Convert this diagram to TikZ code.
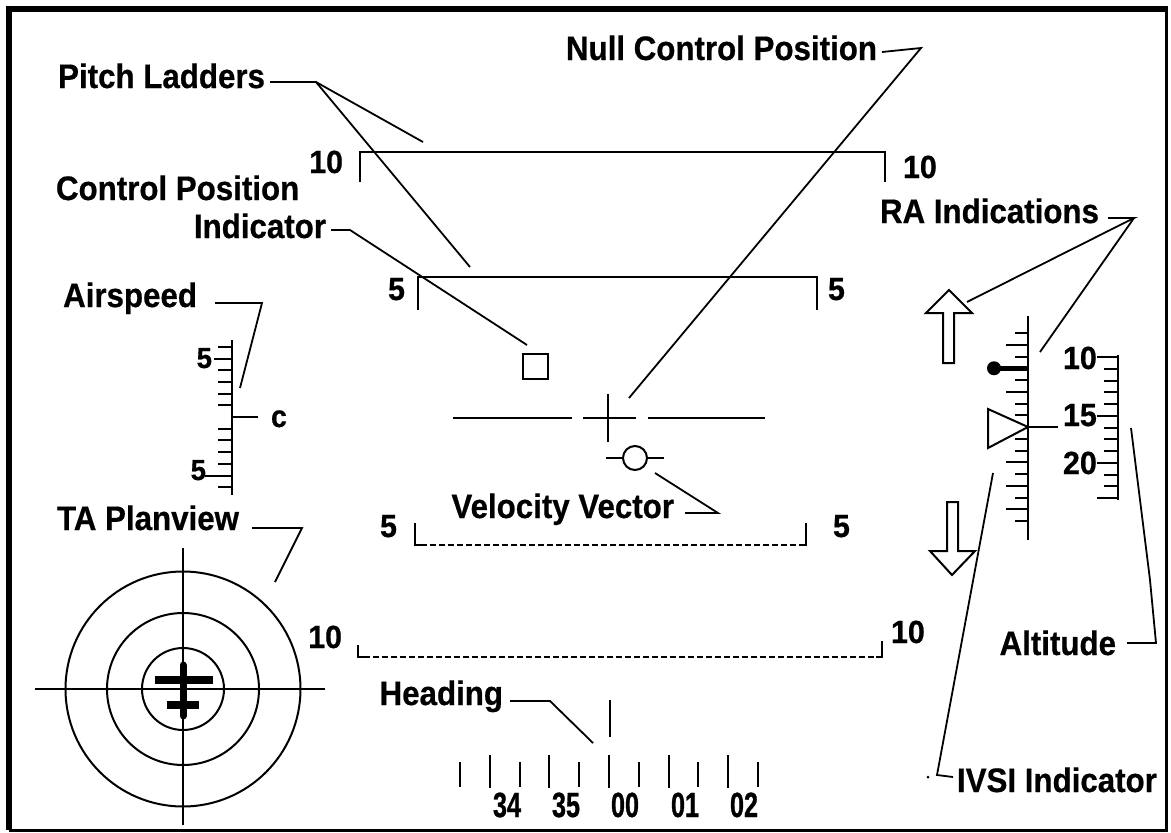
\documentclass[tikz,border=0pt]{standalone}
\usepackage{fontspec}
\setmainfont{Liberation Sans}
\newfontfamily\lblfont[FakeStretch=0.92,FakeBold=0.6]{Liberation Sans}
\newfontfamily\numfont[FakeStretch=0.95,FakeBold=0.6]{Liberation Sans}
\newfontfamily\condfont[FakeStretch=0.72,FakeBold=0.8]{Liberation Sans}
\usetikzlibrary{calc}
\begin{document}
\begin{tikzpicture}[x=1pt,y=-1pt,line width=2pt,
  lbl/.style={font=\fontsize{34}{34}\selectfont\lblfont\bfseries,inner sep=0pt},
  num/.style={font=\fontsize{32}{32}\selectfont\numfont\bfseries,inner sep=0pt},
  hdg/.style={font=\fontsize{35}{35}\selectfont\condfont\bfseries,inner sep=0pt,anchor=base west},
  dashline/.style={dash pattern=on 6pt off 3pt,line width=2.6pt},
  leader/.style={line width=1.8pt},
  frameline/.style={line width=6pt}]
\useasboundingbox (0,0) rectangle (1171,833);
% frame
\draw[frameline] (9,6) -- (9,830);
\draw[frameline] (6,9) -- (1168,9);
\draw[line width=3pt] (1166,9) -- (1166,830) -- (9,830);

% ---------- labels ----------
\node[lbl,anchor=base east] (pl) at (266,88) {Pitch Ladders};
\node[lbl,anchor=base east] (ncp) at (878,60) {Null Control Position};
\node[lbl,anchor=base west] (cp1) at (55,200) {Control Position};
\node[lbl,anchor=base east] (cp2) at (327,238) {Indicator};
\node[lbl,anchor=base east] (as) at (198,307) {Airspeed};
\node[lbl,anchor=base east] (ra) at (1100,223) {RA Indications};
\node[lbl,anchor=base east] (ta) at (240,530) {TA Planview};
\node[lbl,anchor=base east] (vvl) at (675,518) {Velocity Vector};
\node[lbl,anchor=base east] (hd) at (504,705) {Heading};
\node[lbl,anchor=base east] (alt) at (1117,655) {Altitude};
\node[lbl,anchor=base west] (ivsi) at (956,792) {IVSI Indicator};

% ---------- pitch ladders ----------
\draw (360,182) -- (360,152) -- (885,152) -- (885,182);
\node[num,anchor=base east] (p10l) at (344,173) {10};
\node[num,anchor=base west] (p10r) at (902,178) {10};
\draw (418,310) -- (418,277) -- (817,277) -- (817,310);
\node[num,anchor=base east] (p5l) at (406,300) {5};
\node[num,anchor=base west] (p5r) at (827,300) {5};
\draw (415,523) -- (415,545) -- (421,545);
\draw[dashline] (421,545) -- (800,545);
\draw (800,545) -- (806,545) -- (806,523);
\node[num,anchor=base east] (m5l) at (398,537) {5};
\node[num,anchor=base west] (m5r) at (832,537) {5};
\draw (358,645) -- (358,657) -- (364,657);
\draw[dashline] (364,657) -- (876,657);
\draw (876,657) -- (882,657) -- (882,641);
\node[num,anchor=base east] (m10l) at (343,648) {10};
\node[num,anchor=base west] (m10r) at (890,643) {10};

% ---------- centre symbols ----------
\draw (453,418) -- (572,418);
\draw (583,418) -- (636,418);
\draw (648,418) -- (765,418);
\draw (608,394) -- (608,442);
\node[draw,minimum size=25pt,inner sep=0pt,line width=2pt] (cpi) at (535,366.5) {};
\node[draw,circle,minimum size=24pt,inner sep=0pt,line width=2pt] (vv) at (635,458) {};
\draw (606,458) -- (vv.west);
\draw (vv.east) -- (664,458);

% ---------- airspeed tape ----------
\draw (232,340) -- (232,495);
\foreach \k in {-6,-4,-3,-2,-1,1,2,3,4,6} \draw (218,417+\k*11.7) -- (232,417+\k*11.7);
\draw (214,417-5*11.7) -- (232,417-5*11.7);
\draw (205,417+5*11.7) -- (232,417+5*11.7);
\draw (232,417) -- (258,417);
\node[num,anchor=base east,font=\fontsize{29}{29}\selectfont\numfont\bfseries] (as5a) at (213,368) {5};
\node[num,anchor=base east,font=\fontsize{29}{29}\selectfont\numfont\bfseries] (as5b) at (207,480) {5};
\node[anchor=base west,inner sep=0pt,font=\fontsize{31}{31}\selectfont\lblfont\bfseries] (asc) at (270,427) {c};

% ---------- TA planview ----------
\coordinate (tac) at (183,689);
\draw (tac) circle[radius=41];
\draw (tac) circle[radius=76];
\draw (tac) circle[radius=117.5];
\draw (35,689) -- (325,689);
\draw (183,548) -- (183,825);
\draw[line width=8pt] (155,680) -- (213,680);
\draw[line width=8pt] (167,705) -- (199,705);
\draw[line width=7pt,line cap=round] (183,665) -- (183,716);

% ---------- heading tape ----------
\foreach \i in {0,2,4,6,8,10} \draw (460+\i*29.8,762) -- (460+\i*29.8,787);
\foreach \i in {1,3,5,7,9} \draw (460+\i*29.8,755) -- (460+\i*29.8,788);
\draw (610,700) -- (610,737);
\node[hdg] (h34) at (492,817) {34};
\node[hdg] (h35) at (551,817) {35};
\node[hdg] (h00) at (610,817) {00};
\node[hdg] (h01) at (670,817) {01};
\node[hdg] (h02) at (729,817) {02};

% ---------- RA arrows ----------
\draw (943,363) -- (943,313) -- (926,313) -- (949,290) -- (972,313) -- (954,313) -- (954,363) -- cycle;
\draw (947,502) -- (947,551) -- (930,551) -- (952,575) -- (975,551) -- (958,551) -- (958,502) -- cycle;

% ---------- IVSI tape ----------
\draw (1028,316) -- (1028,540);
\foreach \k in {-7,-3,3,5,7} \draw (1006,427+\k*11.75) -- (1028,427+\k*11.75);
\foreach \k in {-8,-6,-4,-2,-1,1,2,4,6,8} \draw (1015,427+\k*11.75) -- (1028,427+\k*11.75);
\draw[line width=5pt] (998,427-5*11.75) -- (1028,427-5*11.75);
\fill (994,368.25) circle[radius=7];
\draw[fill=white] (988,409) -- (988,448) -- (1028,427) -- cycle;
\draw (1028,427) -- (1058,427);

% ---------- altitude tape ----------
\draw (1118,355) -- (1118,500);
\foreach \j in {1,2,3,4,6,7,8,10,11} \draw (1104,357+\j*11.75) -- (1118,357+\j*11.75);
\foreach \j in {0,5,9,12} \draw (1097,357+\j*11.75) -- (1118,357+\j*11.75);
\node[num,anchor=base west] (a10) at (1062,369) {10};
\node[num,anchor=base west] (a15) at (1062,426) {15};
\node[num,anchor=base west] (a20) at (1062,474) {20};

% ---------- leaders ----------
\coordinate (plA) at (270,82); \coordinate (plB) at (316,82);
\coordinate (plC) at (423,142); \coordinate (plD) at (470,267);
\draw[leader] (plA) -- (plB) -- (plC);
\draw[leader] (plB) -- (plD);

\coordinate (ncA) at (882,52); \coordinate (ncB) at (921,48); \coordinate (ncC) at (629,398);
\draw[leader] (ncA) -- (ncB) -- (ncC);

\coordinate (ciA) at (331,230); \coordinate (ciB) at (350,230); \coordinate (ciC) at (527,345);
\draw[leader] (ciA) -- (ciB) -- (ciC);

\coordinate (asA) at (215,303); \coordinate (asB) at (262,303); \coordinate (asC) at (240,388);
\draw[leader] (asA) -- (asB) -- (asC);

\coordinate (raA) at (1108,218); \coordinate (raB) at (1134,218);
\coordinate (raC) at (967,302); \coordinate (raD) at (1040,352);
\draw[leader] (raA) -- (raB) -- (raC);
\draw[leader] (raB) -- (raD);

\coordinate (taA) at (252,528); \coordinate (taB) at (302,528); \coordinate (taC) at (275,582);
\draw[leader] (taA) -- (taB) -- (taC);

\coordinate (vvA) at (685,513); \coordinate (vvB) at (718,513); \coordinate (vvC) at (655,473);
\draw[leader] (vvA) -- (vvB) -- (vvC);

\coordinate (hdA) at (510,701); \coordinate (hdB) at (550,701); \coordinate (hdC) at (593,743);
\draw[leader] (hdA) -- (hdB) -- (hdC);

\coordinate (alA) at (1131,428); \coordinate (alB) at (1150,580);
\coordinate (alC) at (1156,643); \coordinate (alD) at (1127,643);
\draw[leader] (alA) -- (alB) -- (alC) -- (alD);

\coordinate (ivA) at (993,473); \coordinate (ivB) at (937,775); \coordinate (ivC) at (953,777);
\draw[leader] (ivA) -- (ivB) -- (ivC);
\fill (928,777) circle[radius=1.5];
\end{tikzpicture}
\end{document}
